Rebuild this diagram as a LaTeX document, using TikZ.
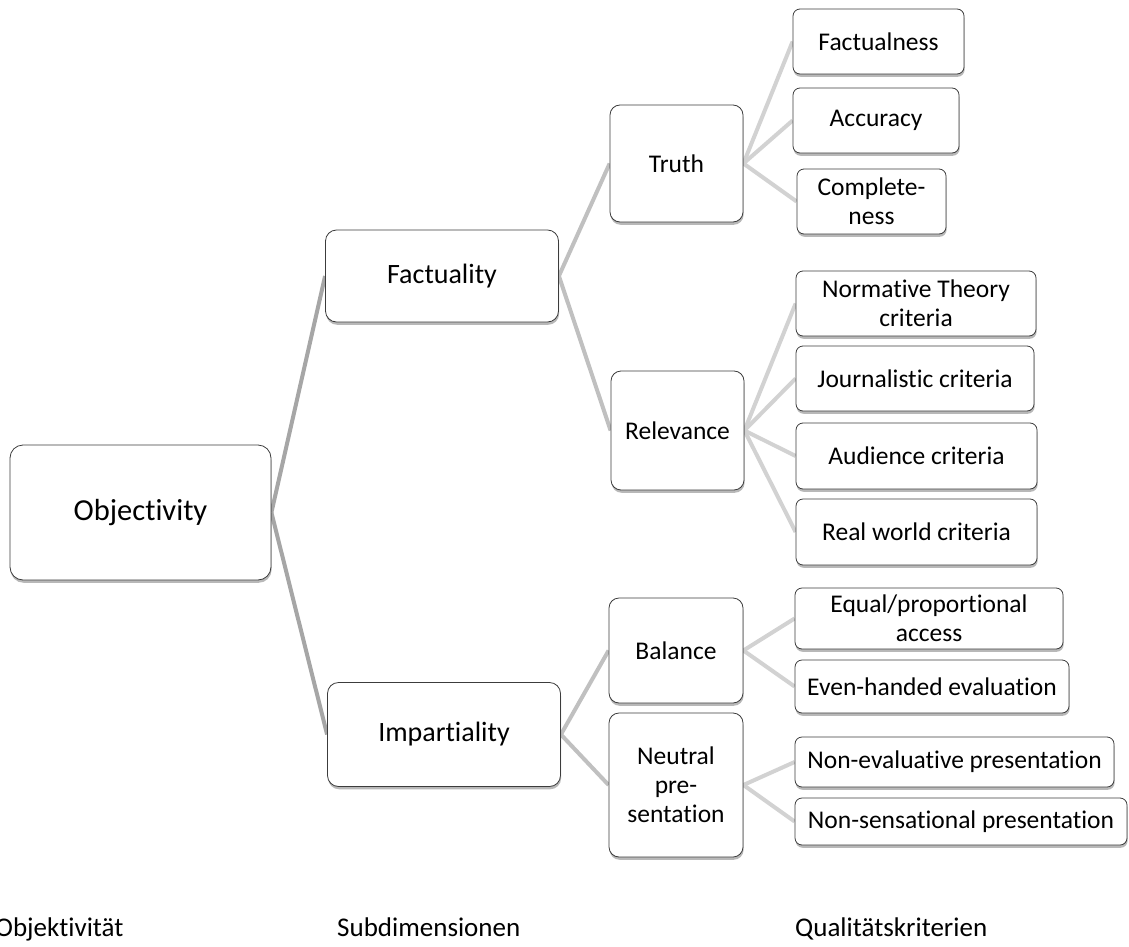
\documentclass[tikz,border=0pt]{standalone}
\usepackage{fontspec}
\setmainfont[Ligatures=NoCommon]{Carlito}
\usetikzlibrary{shadows,backgrounds}
\definecolor{lineA}{RGB}{166,166,166}
\definecolor{lineB}{RGB}{192,192,192}
\definecolor{lineC}{RGB}{210,210,210}
\definecolor{boxborder}{RGB}{60,60,60}
\newcommand\fsObj{\fontsize{30.5}{34}\selectfont}
\newcommand\fsOne{\fontsize{28}{32}\selectfont}
\newcommand\fsTwo{\fontsize{25.5}{29}\selectfont}
\newcommand\fsLab{\fontsize{27}{30}\selectfont}
\tikzset{
  box/.style={draw=boxborder, fill=white, line width=0.8pt, rounded corners=8pt,
    align=center, inner sep=2pt, font=\fsTwo,
    drop shadow={shadow xshift=0.6pt, shadow yshift=-2.8pt, opacity=0.28, fill=black}},
  bigbox/.style={box, rounded corners=13pt, font=\fsObj},
  midbox/.style={box, rounded corners=11pt, font=\fsOne},
  subbox/.style={box, rounded corners=10pt},
  leafbox/.style={box, rounded corners=7pt},
  conA/.style={draw=lineA, line width=4pt},
  conB/.style={draw=lineB, line width=4pt},
  conC/.style={draw=lineC, line width=4pt},
  lab/.style={anchor=base west, inner sep=0pt, font=\fsLab}
}
\begin{document}
\begin{tikzpicture}[x=1pt,y=-1pt]
\useasboundingbox (0,0) rectangle (1129,947);
% level 0
\node[bigbox, minimum width=261pt, minimum height=135pt] (obj) at (140.5,512.5) {Objectivity};
% level 1
\node[midbox, minimum width=233pt, minimum height=92pt] (fac) at (442,276) {Factuality};
\node[midbox, minimum width=233pt, minimum height=104pt] (imp) at (444,734.5) {Impartiality};
% level 2
\node[subbox, minimum width=133pt, minimum height=117pt] (tru) at (676.5,163.5) {Truth};
\node[subbox, minimum width=133pt, minimum height=119pt] (rel) at (677.5,430.5) {Relevance};
\node[subbox, minimum width=134pt, minimum height=105pt] (bal) at (676,650.5) {Balance};
\node[subbox, minimum width=134pt, minimum height=144pt] (neu) at (676,785) {Neutral\\pre-\\sentation};
% leaves
\node[leafbox, minimum width=171pt, minimum height=65pt] (fnes) at (878.5,41.5) {Factualness};
\node[leafbox, minimum width=166pt, minimum height=65pt] (acc) at (876,120.5) {Accuracy};
\node[leafbox, minimum width=149pt, minimum height=65pt] (com) at (871.5,201.5) {Complete-\\ness};
\node[leafbox, minimum width=240pt, minimum height=65pt] (nor) at (916,303.5) {Normative Theory\\criteria};
\node[leafbox, minimum width=238pt, minimum height=65pt] (jou) at (915,378.5) {Journalistic criteria};
\node[leafbox, minimum width=241pt, minimum height=66pt] (aud) at (916.5,456) {Audience criteria};
\node[leafbox, minimum width=241pt, minimum height=66pt] (rea) at (916.5,532) {Real world criteria};
\node[leafbox, minimum width=268pt, minimum height=61pt] (equ) at (929,618.5) {Equal/proportional\\access};
\node[leafbox, minimum width=274pt, minimum height=53pt] (eve) at (932,686.5) {Even-handed evaluation};
\node[leafbox, minimum width=319pt, minimum height=50pt] (nev) at (954.5,762) {Non-evaluative presentation};
\node[leafbox, minimum width=332pt, minimum height=47pt] (nse) at (961,821.5) {Non-sensational presentation};
% connectors
\begin{scope}[on background layer]
\draw[conA] (obj.east) -- (fac.west);
\draw[conA] (obj.east) -- (imp.west);
\draw[conB] (fac.east) -- (tru.west);
\draw[conB] (fac.east) -- (rel.west);
\draw[conB] (imp.east) -- (bal.west);
\draw[conB] (imp.east) -- (neu.west);
\draw[conC] (tru.east) -- (fnes.west);
\draw[conC] (tru.east) -- (acc.west);
\draw[conC] (tru.east) -- (com.west);
\draw[conC] (rel.east) -- (nor.west);
\draw[conC] (rel.east) -- (jou.west);
\draw[conC] (rel.east) -- (aud.west);
\draw[conC] (rel.east) -- (rea.west);
\draw[conC] (bal.east) -- (equ.west);
\draw[conC] (bal.east) -- (eve.west);
\draw[conC] (neu.east) -- (nev.west);
\draw[conC] (neu.east) -- (nse.west);
\end{scope}
% bottom labels
\node[lab] (l1) at (-5,936) {Objektivität};
\node[lab] (l2) at (337,936) {Subdimensionen};
\node[lab] (l3) at (795,936) {Qualitätskriterien};
\end{tikzpicture}
\end{document}
